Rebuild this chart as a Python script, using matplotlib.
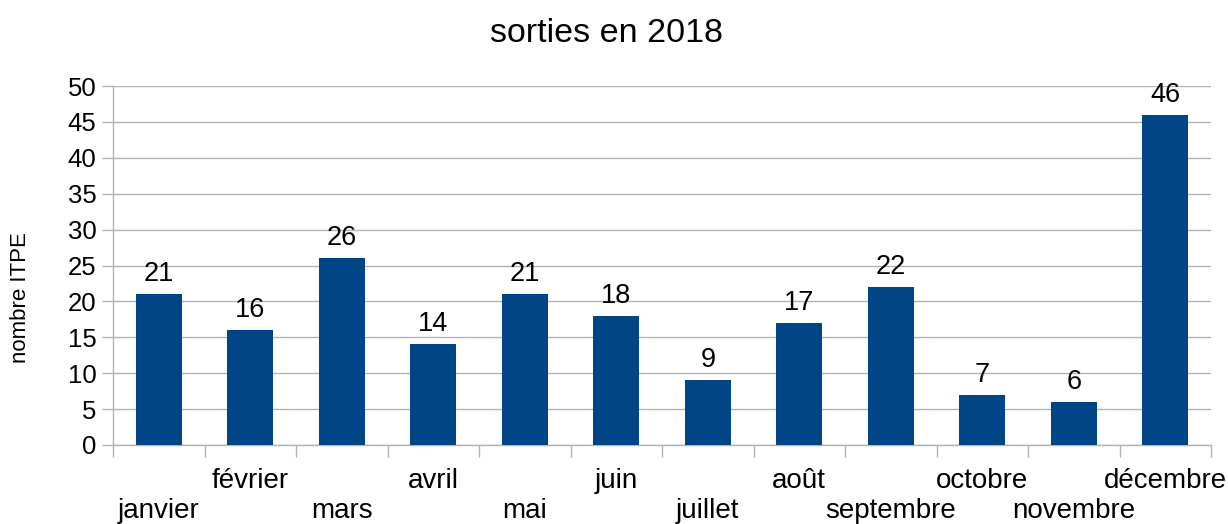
import numpy as np
import matplotlib
matplotlib.use("Agg")
import matplotlib.pyplot as plt

plt.rcParams["font.family"] = ["Liberation Sans", "DejaVu Sans"]

# Data
months = ["janvier", "février", "mars", "avril", "mai", "juin",
          "juillet", "août", "septembre", "octobre", "novembre", "décembre"]
sorties = [21, 16, 26, 14, 21, 18, 9, 17, 22, 7, 6, 46]
yticks = list(range(0, 51, 5))

bar_color = "#004586"
grid_color = "#b3b3b3"

fig = plt.figure(figsize=(12.28, 5.24), dpi=100)
ax = fig.add_axes([113 / 1228, 79 / 524, 1098 / 1228, 359 / 524])

x = np.arange(len(months))
bars = ax.bar(x, sorties, width=0.5, color=bar_color, zorder=3)
for rect, v in zip(bars, sorties):
    ax.annotate(str(v), (rect.get_x() + rect.get_width() / 2, v),
                xytext=(0, 9.5), textcoords="offset points",
                ha="center", va="baseline", fontsize=19.5, color="black")

ax.set_xlim(-0.5, len(months) - 0.5)
ax.set_ylim(0, 50)
ax.set_yticks(yticks)
ax.yaxis.grid(True, color=grid_color, linewidth=1, zorder=0)

# staggered month labels (two rows), ticks at category boundaries
ax.set_xticks(x)
ax.set_xticklabels([])
for i, m in enumerate(months):
    drop = 52.5 if i % 2 == 0 else 31
    ax.annotate(m, (i, 0), xycoords=("data", "axes fraction"),
                xytext=(0, -drop), textcoords="offset points",
                ha="center", va="baseline", fontsize=20)
ax.set_xticks(np.arange(-0.5, len(months)), minor=True)
ax.tick_params(axis="x", which="major", length=0)
ax.tick_params(axis="x", which="minor", length=8.5, color=grid_color, width=1)
ax.tick_params(axis="y", length=8, color=grid_color, width=1, labelsize=18.5, pad=4)

for side in ["top", "right"]:
    ax.spines[side].set_visible(False)
for side in ["left", "bottom"]:
    ax.spines[side].set_color(grid_color)
    ax.spines[side].set_linewidth(1)

fig.text(21 / 1228, 1 - 298 / 524, "nombre ITPE", rotation=90,
         ha="center", va="center", fontsize=16)
fig.text(0.494, 1 - 42 / 524, "sorties en 2018", ha="center", va="baseline",
         fontsize=24.5)

fig.savefig("out.png", dpi=100)
